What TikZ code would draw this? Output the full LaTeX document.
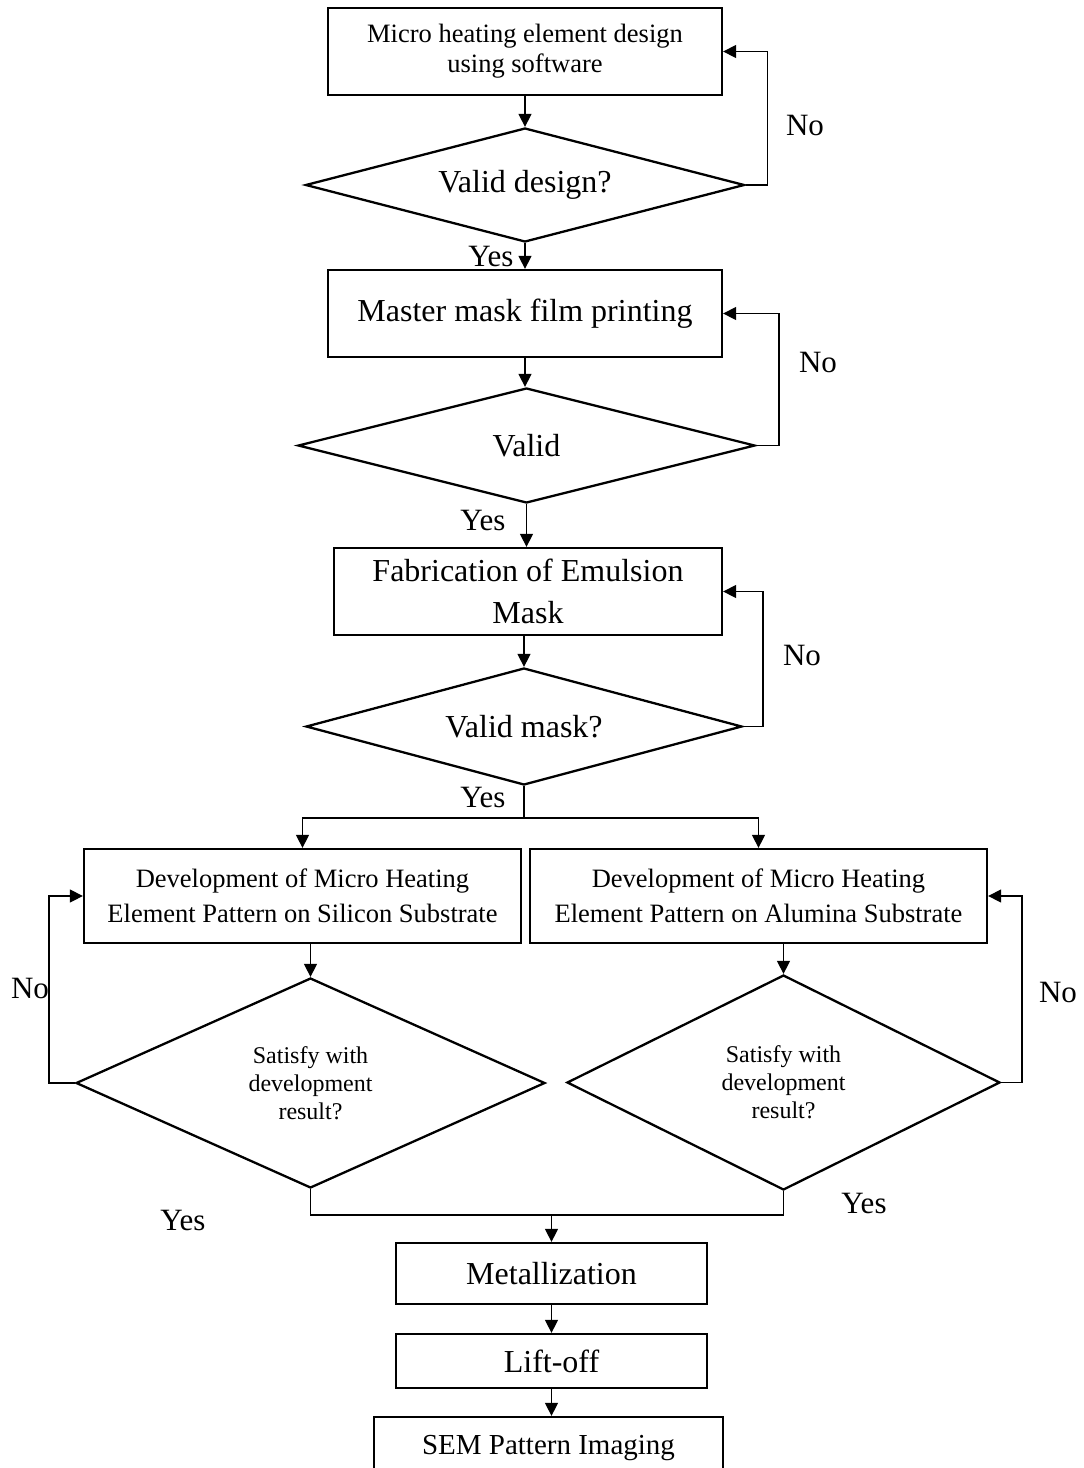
\documentclass[tikz,border=0pt]{standalone}
\usepackage{fontspec}
\setmainfont{Liberation Serif}
\usetikzlibrary{shapes.geometric,arrows.meta}
\begin{document}
\begin{tikzpicture}[x=1pt,y=-1pt,
  box/.style={draw,line width=2.3pt,inner sep=0pt,align=center},
  dia/.style={draw,diamond,line width=2.3pt,inner sep=0pt,align=center},
  ln/.style={line width=1.4pt},
  arr/.style={line width=1.4pt,-{Triangle[length=13pt,width=13pt]}},
  big/.style={font=\fontsize{32}{42}\selectfont},
  med/.style={font=\fontsize{26.5}{35}\selectfont},
  smalltext/.style={font=\fontsize{24}{28}\selectfont},
  lab/.style={font=\fontsize{31}{36}\selectfont,inner sep=0pt},
]
\useasboundingbox (0,0) rectangle (1084,1468);
\clip (0,0) rectangle (1084,1468);

% boxes
\node[box,font=\fontsize{26.5}{30}\selectfont,minimum width=394pt,minimum height=87pt] (B1) at (525,51.5) {Micro heating element design\\using software};
\node[box,big,minimum width=394pt,minimum height=87pt] (B2) at (525,313.5) {Master mask film printing};
\node[box,big,minimum width=388pt,minimum height=87pt] (B3) at (528,591.5) {Fabrication of Emulsion\\Mask};
\node[box,med,minimum width=437pt,minimum height=94pt] (B4) at (302.5,896) {Development of Micro Heating\\Element Pattern on Silicon Substrate};
\node[box,med,minimum width=457pt,minimum height=94pt] (B5) at (758.5,896) {Development of Micro Heating\\Element Pattern on Alumina Substrate};
\node[box,big,minimum width=311pt,minimum height=61pt] (B6) at (551.5,1273.5) {Metallization};
\node[box,big,minimum width=311pt,minimum height=54pt] (B7) at (551.5,1361) {Lift-off};
\node[box,font=\fontsize{29}{34}\selectfont,minimum width=349pt,minimum height=62pt] (B8) at (548.5,1448) {SEM Pattern Imaging};

% diamonds
\node[dia,big,aspect=3.85,minimum width=439pt,minimum height=114pt] (D1) at (525,185) {Valid design?};
\node[dia,big,aspect=3.97,minimum width=457pt,minimum height=115pt] (D2) at (526.5,445.5) {Valid};
\node[dia,big,aspect=3.73,minimum width=436pt,minimum height=117pt] (D3) at (524,726.5) {Valid mask?};
\node[dia,smalltext,aspect=2.23,minimum width=469pt,minimum height=210pt] (D4) at (310.5,1083) {Satisfy with\\development\\result?};
\node[dia,smalltext,aspect=2.01,minimum width=433pt,minimum height=215pt] (D5) at (783.5,1082.5) {Satisfy with\\development\\result?};

% labels
\node[lab] (N1) at (805,125) {No};
\node[lab] (N2) at (818,362) {No};
\node[lab] (N3) at (802,655) {No};
\node[lab] (N4) at (30,988) {No};
\node[lab] (N5) at (1058,992) {No};
\node[lab] (Y1) at (491,256) {Yes};
\node[lab] (Y2) at (483,520) {Yes};
\node[lab] (Y3) at (483,797) {Yes};
\node[lab] (Y4) at (183,1220) {Yes};
\node[lab] (Y5) at (864,1203) {Yes};

% main flow
\draw[arr] (B1.south) -- (D1.north);
\draw[arr] (D1.south) -- (B2.north);
\draw[arr] (B2.south) -- (B2.south |- D2.north);
\draw[arr] (D2.south) -- (D2.south |- B3.north);
\draw[arr] (B3.south -| D3.north) -- (D3.north);
\draw[arr] (B4.south -| D4.north) -- (D4.north);
\draw[arr] (B5.south -| D5.north) -- (D5.north);

% no loops
\draw[arr] (D1.east) -- ++(22,0) |- (B1.east);
\draw[arr] (D2.east) -- ++(23,0) |- (B2.east);
\draw[arr] (D3.east) -- ++(20,0) |- (B3.east);
\draw[arr] (D4.west) -- ++(-26,0) |- (B4.west);
\draw[arr] (D5.east) -- ++(21,0) |- (B5.east);

% split
\coordinate (sY) at (0,818);
\coordinate (split) at (D3.south |- sY);
\draw[ln] (D3.south) -- (split);
\draw[arr] (split) -| (B4.north);
\draw[arr] (split) -| (B5.north);

% merge
\coordinate (mY) at (0,1215);
\coordinate (merge) at (B6.north |- mY);
\draw[ln] (D4.south) |- (merge);
\draw[ln] (D5.south) |- (merge);
\draw[arr] (merge) -- (B6.north);

\draw[arr] (B6.south) -- (B7.north);
\draw[arr] (B7.south) -- (B7.south |- B8.north);
\end{tikzpicture}
\end{document}
